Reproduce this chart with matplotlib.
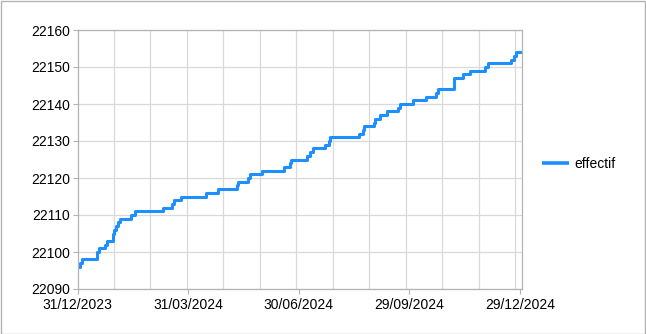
import matplotlib
matplotlib.use("Agg")
import matplotlib.pyplot as plt
import matplotlib.dates as mdates
from matplotlib.patches import Rectangle
import numpy as np
from datetime import date, timedelta

plt.rcParams['font.family'] = ['Liberation Sans', 'DejaVu Sans']

start_date = date(2023, 12, 31)
end_date = date(2024, 12, 31)

# day offsets (from 31/12/2023) at which the value changes, and new values
change_days = [0, 2, 4, 16, 18, 23, 24, 29, 30, 32, 33, 35, 44, 47, 70, 78, 79, 85,
               106, 116, 131, 132, 140, 142, 152, 170, 175, 176, 189, 191, 194, 204,
               207, 208, 232, 235, 236, 244, 245, 249, 255, 264, 265, 276, 287, 295,
               297, 310, 317, 323, 335, 338, 357, 359, 361, 366]
effectif = [22096, 22097, 22098, 22100, 22101, 22102, 22103, 22105, 22106, 22107, 22108,
            22109, 22110, 22111, 22112, 22113, 22114, 22115, 22116, 22117, 22118, 22119,
            22120, 22121, 22122, 22123, 22124, 22125, 22126, 22127, 22128, 22129, 22130,
            22131, 22132, 22133, 22134, 22135, 22136, 22137, 22138, 22139, 22140, 22141,
            22142, 22143, 22144, 22147, 22148, 22149, 22150, 22151, 22152, 22153, 22154,
            22154]

tick_days = [0, 91, 182, 273, 364]
tick_labels = ["31/12/2023", "31/03/2024", "30/06/2024", "29/09/2024", "29/12/2024"]
grid_days = [30, 60, 90, 120, 150, 180, 210, 240, 270, 300, 330, 360]
y_ticks = [22090, 22100, 22110, 22120, 22130, 22140, 22150, 22160]

dates = [start_date + timedelta(days=d) for d in change_days]

W, H = 646, 334
fig = plt.figure(figsize=(W / 100, H / 100), dpi=100)
ax = fig.add_axes([77.5 / W, 1 - 289 / H, (522.3 - 77.5) / W, (289 - 30) / H])

line_color = '#1e8fff'
ax.plot(dates, effectif, drawstyle='steps-post', color=line_color, lw=2.2,
        label='effectif', solid_joinstyle='round', solid_capstyle='round')

ax.set_xlim(start_date, end_date)
ax.set_ylim(22090, 22160)

ax.set_yticks(y_ticks)
ax.set_yticklabels([str(v) for v in y_ticks], fontsize=10)
ax.set_xticks([start_date + timedelta(days=d) for d in tick_days])
ax.set_xticklabels(tick_labels, fontsize=10)
ax.set_xticks([start_date + timedelta(days=d) for d in grid_days], minor=True)

ax.tick_params(axis='both', which='major', length=3.5, width=0.8, color='#b3b3b3',
               labelcolor='black', pad=2)
ax.tick_params(axis='x', which='minor', length=0)
ax.tick_params(axis='x', which='major', pad=3)

ax.grid(True, axis='y', which='major', color='#d9d9d9', lw=0.9)
ax.grid(True, axis='x', which='minor', color='#d9d9d9', lw=0.9)
ax.grid(False, axis='x', which='major')
ax.set_axisbelow(True)

for s in ['top', 'right', 'left', 'bottom']:
    ax.spines[s].set_color('#b3b3b3')
    ax.spines[s].set_linewidth(0.9)

leg = fig.legend(loc='center left', bbox_to_anchor=(541.5 / W, 1 - 163.5 / H),
                 frameon=False, fontsize=10, handlelength=1.95, handletextpad=0.4,
                 borderaxespad=0, borderpad=0)
for l in leg.get_lines():
    l.set_linewidth(2.6)
    l.set_solid_capstyle('butt')

fig.patches.append(Rectangle((0.5 / W, 0.5 / H), 1 - 1.5 / W, 1 - 1.5 / H,
                             transform=fig.transFigure, fill=False,
                             edgecolor='#b3b3b3', lw=1.0))

fig.savefig('out.png', dpi=100)
